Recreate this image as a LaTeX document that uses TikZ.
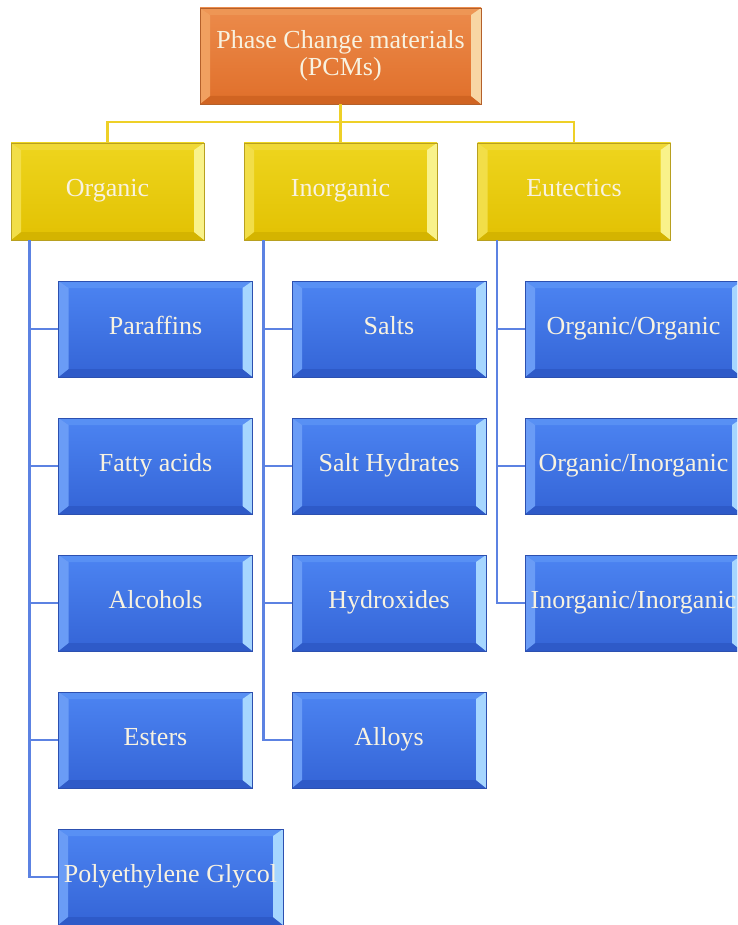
\documentclass[tikz,border=0pt]{standalone}
\usepackage{fontspec}
\setmainfont{Liberation Serif}
\usetikzlibrary{calc}

% palette: base shades, bevel shades, outline
\definecolor{orgTop}{HTML}{EC8B4B}
\definecolor{orgBot}{HTML}{E06F2A}
\definecolor{orgLine}{HTML}{B4602A}
\definecolor{orgLeft}{HTML}{F0A060}
\definecolor{orgRight}{HTML}{F8D6A4}
\definecolor{orgUp}{HTML}{EE9655}
\definecolor{orgDown}{HTML}{D06422}

\definecolor{yelTop}{HTML}{EED51E}
\definecolor{yelBot}{HTML}{E2C102}
\definecolor{yelLine}{HTML}{B8A020}
\definecolor{yelLeft}{HTML}{F2DE48}
\definecolor{yelRight}{HTML}{F9F28A}
\definecolor{yelUp}{HTML}{F0D835}
\definecolor{yelDown}{HTML}{D4B400}

\definecolor{bluTop}{HTML}{4C84F2}
\definecolor{bluBot}{HTML}{3464D6}
\definecolor{bluLine}{HTML}{2C50B0}
\definecolor{bluLeft}{HTML}{6A9CF6}
\definecolor{bluRight}{HTML}{A6D6FF}
\definecolor{bluUp}{HTML}{5890F4}
\definecolor{bluDown}{HTML}{2E5AC8}

\definecolor{linkYel}{HTML}{EED028}
\definecolor{linkBlu}{HTML}{5C82E2}
\definecolor{txt}{HTML}{F8F2E0}

\tikzset{
  x=1pt, y=-1pt,
  bevelbox/.style={
    rectangle, inner sep=0pt, align=center, text=txt,
    font=\fontsize{26}{27}\selectfont,
    draw=#1Line, line width=0.8pt,
    top color=#1Top, bottom color=#1Bot,
    path picture={
      \fill[#1Up] (path picture bounding box.north west) -- (path picture bounding box.north east)
        -- ([shift={(-10pt,-7pt)}]path picture bounding box.north east)
        -- ([shift={(10pt,-7pt)}]path picture bounding box.north west) -- cycle;
      \fill[#1Down] (path picture bounding box.south west) -- (path picture bounding box.south east)
        -- ([shift={(-10pt,8pt)}]path picture bounding box.south east)
        -- ([shift={(10pt,8pt)}]path picture bounding box.south west) -- cycle;
      \fill[#1Left] (path picture bounding box.north west) -- (path picture bounding box.south west)
        -- ([shift={(10pt,8pt)}]path picture bounding box.south west)
        -- ([shift={(10pt,-7pt)}]path picture bounding box.north west) -- cycle;
      \fill[#1Right] (path picture bounding box.north east) -- (path picture bounding box.south east)
        -- ([shift={(-10pt,8pt)}]path picture bounding box.south east)
        -- ([shift={(-10pt,-7pt)}]path picture bounding box.north east) -- cycle;
    }
  },
  oneline/.style={text height=17pt, text depth=7pt},
  rootbox/.style={bevelbox=org, minimum width=281pt, minimum height=96pt},
  groupbox/.style={bevelbox=yel, oneline, minimum width=193pt, minimum height=97pt},
  leafbox/.style={bevelbox=blu, oneline, minimum width=194pt, minimum height=96pt},
  widebox/.style={leafbox, minimum width=225pt},
  eutbox/.style={leafbox, minimum width=217pt},
  yellink/.style={draw=linkYel, line width=2.4pt},
  blulink/.style={draw=linkBlu, line width=2.4pt},
}

\begin{document}
\begin{tikzpicture}
\useasboundingbox (0,0) rectangle (737,925);
\clip (0,0) rectangle (737,925);

% root
\node[rootbox] (root) at (340.5,56) {Phase Change materials\\(PCMs)};

% categories
\node[groupbox] (org) at (107.5,191.5) {Organic};
\node[groupbox] (inorg) at (340.5,191.5) {Inorganic};
\node[groupbox] (eut) at (574,191.5) {Eutectics};

% organic members
\node[leafbox] (par) at (155.5,329) {Paraffins};
\node[leafbox] (fat) at (155.5,466) {Fatty acids};
\node[leafbox] (alc) at (155.5,603) {Alcohols};
\node[leafbox] (est) at (155.5,740) {Esters};
\node[widebox] (peg) at (170.5,877) {Polyethylene Glycol};

% inorganic members
\node[leafbox] (salt) at (389,329) {Salts};
\node[leafbox] (hyd) at (389,466) {Salt Hydrates};
\node[leafbox] (oxh) at (389,603) {Hydroxides};
\node[leafbox] (all) at (389,740) {Alloys};

% eutectic members
\node[eutbox] (oo) at (633.5,329) {Organic/Organic};
\node[eutbox] (oi) at (633.5,466) {Organic/Inorganic};
\node[eutbox] (ii) at (633.5,603) {Inorganic/Inorganic};

% root to categories
\coordinate (bus) at (340.5,122);
\draw[yellink] (root.south) -- (bus);
\draw[yellink] (bus) -| (org.north);
\draw[yellink] (bus) -| (eut.north);
\draw[yellink] (bus) -- (inorg.north);

% category trunks
\coordinate (tO) at ($(org.south west)+(19pt,0)$);
\coordinate (tI) at ($(inorg.south west)+(20pt,0)$);
\coordinate (tE) at ($(eut.south west)+(20pt,0)$);

\foreach \c in {par,fat,alc,est,peg} \draw[blulink] (tO) |- (\c.west);
\foreach \c in {salt,hyd,oxh,all} \draw[blulink] (tI) |- (\c.west);
\foreach \c in {oo,oi,ii} \draw[blulink] (tE) |- (\c.west);
\end{tikzpicture}
\end{document}
